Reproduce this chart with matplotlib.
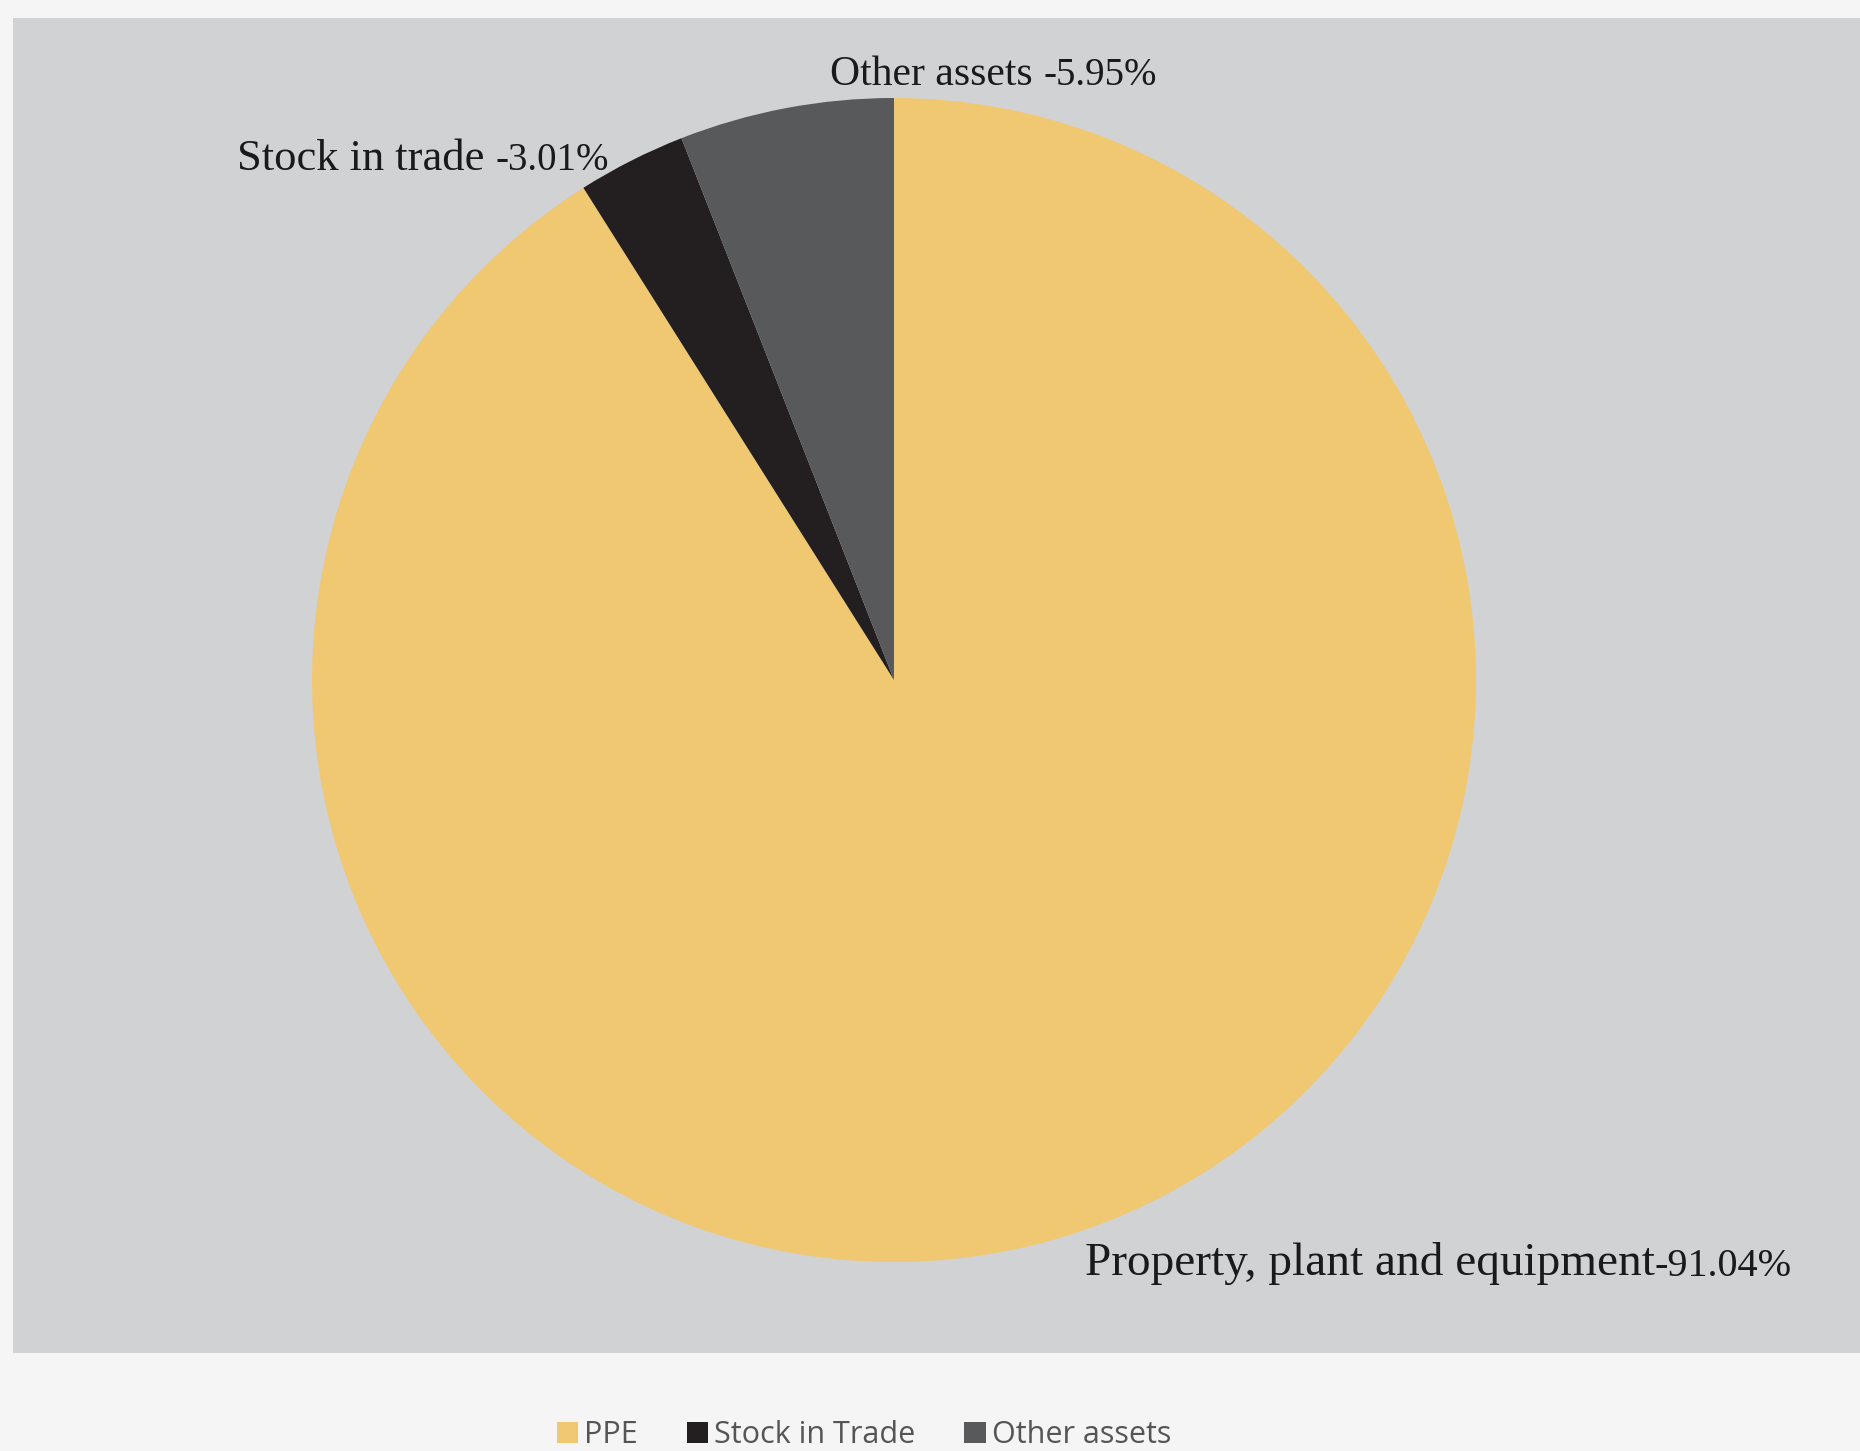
import matplotlib
matplotlib.use("Agg")
import matplotlib.pyplot as plt
from matplotlib.patches import Rectangle

categories = ["PPE", "Stock in Trade", "Other assets"]
label_names = ["Property, plant and equipment", "Stock in trade ", "Other assets "]
shares = [91.04, 3.01, 5.95]
colors = ["#F0C872", "#231F20", "#58595B"]

W, H = 1860, 1451
fig = plt.figure(figsize=(W / 100, H / 100), dpi=100)
fig.patch.set_facecolor("#F5F5F5")
ax = fig.add_axes([0, 0, 1, 1])
ax.set_xlim(0, W)
ax.set_ylim(0, H)
ax.set_aspect("equal")
ax.axis("off")

# grey chart panel
ax.add_patch(Rectangle((13, H - 1353), 1847, 1335, facecolor="#D1D2D4",
                       edgecolor="none", zorder=0))

wedges, _ = ax.pie(shares, colors=colors, startangle=90, counterclock=False,
                   center=(894, H - 680), radius=582,
                   wedgeprops=dict(linewidth=0), frame=True)
ax.set_xlim(0, W)
ax.set_ylim(0, H)
ax.axis("off")

serif = ["Liberation Serif", "DejaVu Serif"]

def label(x, y, name, pct, name_size=31, pct_size=28):
    t = ax.text(x, y, name, fontsize=name_size, family=serif, color="#1A1A1A",
                ha="left", va="baseline", zorder=5)
    ax.annotate(pct, xy=(1, 0), xycoords=t, xytext=(0, 0),
                textcoords="offset points", fontsize=pct_size, family=serif,
                color="#1A1A1A", ha="left", va="bottom", zorder=5)

label(830, H - 85, label_names[2], f"-{shares[2]:.2f}%", name_size=30)
label(237, H - 170, label_names[1], f"-{shares[1]:.2f}%", name_size=32)
label(1085, H - 1275, label_names[0], f"-{shares[0]:.2f}%", name_size=34, pct_size=29)

leg = ax.legend(wedges, categories, loc="center", bbox_to_anchor=(864 / W, 16 / H),
                ncol=3, frameon=False, handlelength=0.7, handleheight=0.7,
                handletextpad=0.2, columnspacing=1.6,
                prop=dict(family=["Open Sans", "DejaVu Sans"], size=22))
for txt in leg.get_texts():
    txt.set_color("#555555")

fig.savefig("out.png", dpi=100, facecolor=fig.get_facecolor())
